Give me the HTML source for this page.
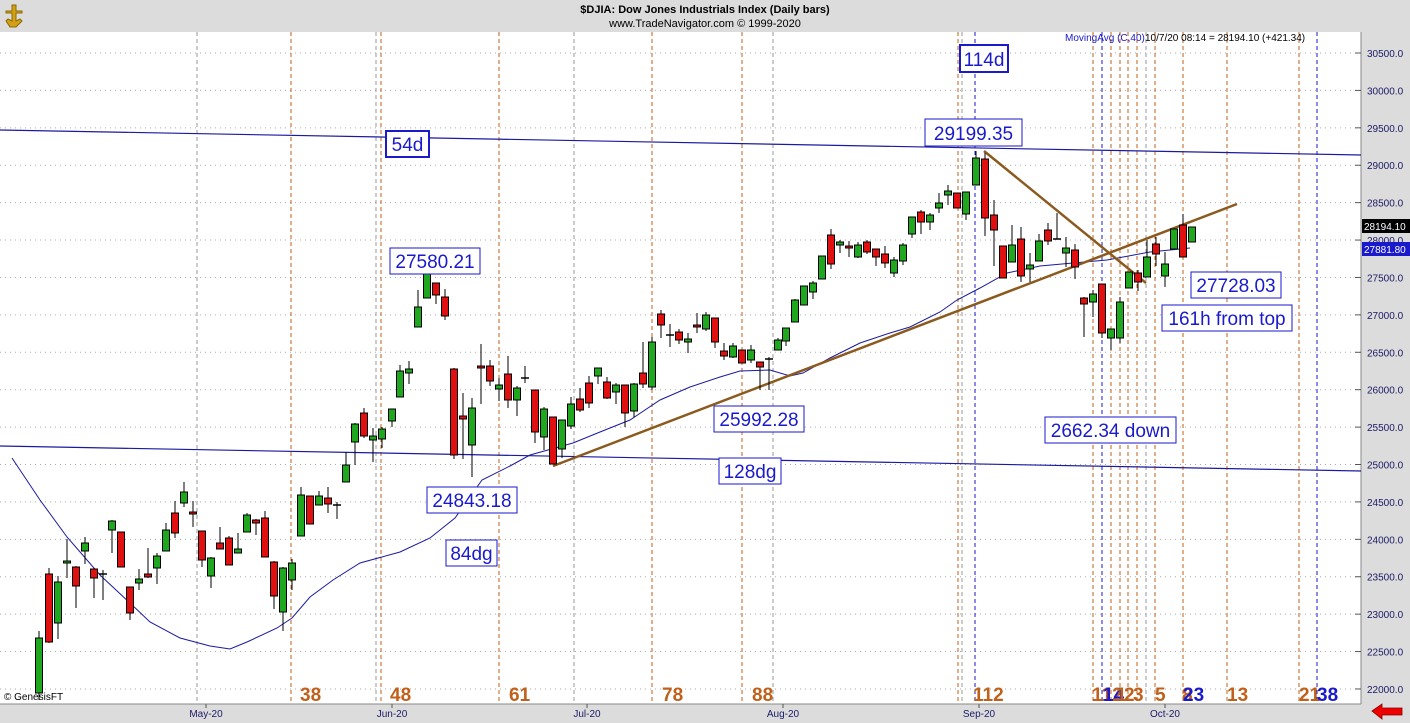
<!DOCTYPE html>
<html><head><meta charset="utf-8"><style>
html,body{margin:0;padding:0;width:1410px;height:723px;overflow:hidden;background:#dcdcdc;font-family:"Liberation Sans",sans-serif}
svg{display:block}
</style></head><body>
<svg id="s" width="1410" height="723" xmlns="http://www.w3.org/2000/svg" font-family="Liberation Sans, sans-serif">
<rect x="0" y="0" width="1410" height="723" fill="#dcdcdc"/>
<rect x="0" y="32" width="1361" height="672" fill="#fff"/>
<line x1="1361" y1="32" x2="1361" y2="704" stroke="#888" stroke-width="1"/>
<line x1="0" y1="704" x2="1361" y2="704" stroke="#888" stroke-width="1"/>
<text x="705" y="13" font-size="11" font-weight="bold" text-anchor="middle" fill="#000">$DJIA:  Dow Jones Industrials Index  (Daily bars)</text>
<text x="705" y="27" font-size="11" text-anchor="middle" fill="#000">www.TradeNavigator.com © 1999-2020</text>
<g transform="translate(4,3)"><path d="M10 2 L12 2 L12 8 L18 8 L18 10 L12 10 L12 18 L16 16 L18 18 L12 24 L6 24 L2 18 L4 16 L8 18 L8 10 L2 10 L2 8 L8 8 L8 2Z" fill="#d4a017" stroke="#8a6a00" stroke-width="1"/></g>
<g id="grid"></g>
<g id="vl"></g>
<g id="lines"></g>
<g id="c"></g>
<g id="lab"></g>
<text x="1065" y="41" font-size="10" fill="#1a1acc">MovingAvg (C,40)</text>
<text x="1145" y="41" font-size="10" fill="#000">10/7/20 08:14 = 28194.10 (+421.34)</text>
<text x="4" y="700" font-size="10" fill="#000">© GenesisFT</text>
<path d="M1372 711 L1382 704 L1382 708 L1402 708 L1402 715 L1382 715 L1382 719Z" fill="#e00" stroke="#800" stroke-width="0.8"/>
</svg>
<script>
var NS="http://www.w3.org/2000/svg";
function el(p,t,a,txt){var e=document.createElementNS(NS,t);for(var k in a)e.setAttribute(k,a[k]);if(txt!=null)e.textContent=txt;document.getElementById(p).appendChild(e);return e;}
// grid + right axis
for(var k=0;k<=17;k++){var y=53+k*37.41;var v=30500-k*500;
el("grid","line",{x1:0,y1:y,x2:1361,y2:y,stroke:"#aaa","stroke-dasharray":"1,4","stroke-width":1});
el("grid","line",{x1:1355,y1:y,x2:1361,y2:y,stroke:"#555"});
el("grid","text",{x:1367,y:y+4,"font-size":10,fill:"#1a1a66"},v.toFixed(1));}
// month labels
[["May-20",206],["Jun-20",392],["Jul-20",587],["Aug-20",783],["Sep-20",979],["Oct-20",1165]].forEach(function(m){
el("grid","text",{x:m[1],y:717,"font-size":10,fill:"#1a1a66","text-anchor":"middle"},m[0]);
el("grid","line",{x1:m[1],y1:704,x2:m[1],y2:708,stroke:"#555"});});
// vertical lines
[197,376,574,773,962,1146].forEach(function(x){el("vl","line",{x1:x,y1:32,x2:x,y2:704,stroke:"#999","stroke-dasharray":"4,3"});});
[291,381,499,652,742,958,1093,1111,1120,1128,1137,1155,1183,1227,1299].forEach(function(x){el("vl","line",{x1:x,y1:32,x2:x,y2:704,stroke:"#c0601a","stroke-dasharray":"4,3"});});
[975,1102,1317].forEach(function(x){el("vl","line",{x1:x,y1:32,x2:x,y2:704,stroke:"#1a1acc","stroke-dasharray":"4,3"});});
// lines
el("lines","line",{x1:0,y1:130,x2:1361,y2:155,stroke:"#1a1aa0","stroke-width":1.2});
el("lines","line",{x1:0,y1:446,x2:1361,y2:471,stroke:"#1a1aa0","stroke-width":1.2});
var ma=[[12,458],[40,500],[67,537],[100,575],[130,603],[150,622],[180,638],[210,646],[230,649],[247,642],[277,628],[292,618],[310,597],[333,580],[360,563],[400,552],[430,538],[455,518],[482,480],[510,466],[530,455],[573,443],[600,432],[630,420],[660,400],[690,387],[720,377],[740,371],[770,370],[790,376],[803,373],[830,358],[860,343],[890,333],[910,327],[940,312],[957,300],[980,288],[1007,273],[1040,266],[1073,263],[1107,260],[1150,252],[1190,248]];
el("lines","polyline",{points:ma.map(function(p){return p.join(",")}).join(" "),fill:"none",stroke:"#1a1aa0","stroke-width":1});
el("lines","line",{x1:553,y1:466,x2:1237,y2:204,stroke:"#8b5a1e","stroke-width":2.5});
el("lines","line",{x1:984,y1:151,x2:1146,y2:283,stroke:"#8b5a1e","stroke-width":2.5});
// candles [x, top, bottom, high, low, green]
var C=[[39,638,693,631,700,1],[49,574,642,568,643,0],[58,582,623,576,639,1],[67,561,563,539,578,1],[76,567,586,566,608,0],[85,543,551,537,564,1],[94,569,578,568,598,0],[103,574,574,570,600,2],[112,521,530,520,553,1],[121,532,567,532,567,0],[130,587,613,587,620,0],[139,579,583,569,590,1],[148,574,577,548,578,0],[157,556,568,553,584,1],[166,530,551,523,551,1],[175,513,533,501,538,0],[184,492,503,482,507,1],[193,512,514,501,527,0],[202,531,560,531,567,0],[211,558,576,557,588,1],[220,543,549,527,549,0],[229,538,565,536,565,0],[238,549,553,533,553,1],[247,515,532,513,532,1],[256,520,523,519,535,0],[265,518,557,511,557,0],[274,562,596,561,609,0],[283,568,612,567,631,1],[292,563,580,559,590,1],[301,495,536,487,536,1],[310,496,524,496,524,0],[319,496,505,491,505,1],[328,498,504,487,513,0],[337,505,505,502,519,2],[346,465,482,452,482,1],[355,424,442,423,465,1],[364,413,436,408,438,0],[373,436,440,428,462,1],[382,429,439,427,448,1],[392,409,421,409,427,1],[400,371,397,365,397,1],[409,369,373,361,384,1],[418,307,327,290,327,1],[427,273,298,273,298,1],[436,283,295,283,304,0],[445,297,316,289,320,0],[454,369,455,368,459,0],[463,416,419,393,459,0],[472,408,445,398,477,1],[481,366,368,344,404,0],[490,366,381,360,386,0],[499,385,389,378,401,1],[508,374,400,356,408,0],[517,388,400,386,416,1],[525,378,378,366,383,2],[535,390,432,390,443,0],[544,409,437,407,450,1],[553,417,464,417,464,0],[562,420,449,420,458,1],[571,404,426,397,429,1],[580,399,410,388,412,0],[589,383,403,376,408,0],[598,368,376,368,384,1],[607,382,398,377,399,0],[616,385,392,383,404,1],[625,385,413,385,427,0],[634,384,411,383,417,1],[643,373,384,342,388,0],[652,342,387,337,390,1],[661,314,325,310,338,0],[670,335,335,324,347,2],[679,332,340,329,344,0],[688,339,342,333,353,1],[697,325,327,313,333,0],[706,315,329,312,331,1],[715,318,342,318,348,0],[724,351,356,343,360,0],[733,346,357,343,358,1],[742,350,363,350,363,0],[751,350,360,345,363,1],[760,362,367,362,390,0],[769,359,359,357,390,2],[778,340,350,338,350,1],[786,328,341,328,346,1],[795,300,322,299,322,1],[804,286,305,286,305,1],[813,283,292,281,299,1],[822,256,279,256,279,1],[831,235,264,229,269,0],[840,242,245,240,253,1],[849,246,248,241,257,0],[858,245,257,242,258,1],[867,242,252,240,254,0],[876,249,257,249,266,0],[885,254,263,246,268,0],[894,260,273,257,277,1],[903,245,261,243,265,1],[912,217,234,217,238,1],[921,212,222,210,234,0],[930,215,222,213,230,1],[939,203,208,193,213,1],[948,191,195,185,205,1],[957,193,208,193,208,0],[966,192,214,192,220,1],[976,158,185,151,185,1],[985,159,218,153,236,0],[994,215,230,200,266,0],[1003,246,278,246,278,0],[1012,245,262,225,262,1],[1021,239,276,227,282,0],[1030,265,269,253,282,1],[1039,241,261,234,261,1],[1048,230,241,223,245,0],[1057,239,239,213,239,2],[1066,248,253,237,267,1],[1075,250,267,244,279,0],[1084,298,304,297,337,0],[1093,294,302,290,317,1],[1102,284,333,284,338,0],[1111,329,338,329,350,1],[1120,302,338,297,343,1],[1129,272,288,272,288,1],[1138,273,282,270,291,0],[1147,257,277,240,277,1],[1156,244,254,237,266,0],[1165,264,276,252,287,1],[1174,229,249,229,249,1],[1183,225,257,214,257,0],[1192,227,242,227,242,1]];
C.forEach(function(c){
el("c","line",{x1:c[0],y1:c[3],x2:c[0],y2:c[4],stroke:"#000","stroke-width":1});
if(c[5]==2){el("c","line",{x1:c[0]-4,y1:c[1],x2:c[0]+4,y2:c[1],stroke:"#000","stroke-width":1.5});}
else{var h=Math.max(c[2]-c[1],2);el("c","rect",{x:c[0]-3.5,y:c[1],width:7,height:h,fill:c[5]?"#1fa81f":"#e01010",stroke:"#000","stroke-width":1});}
});
// labels
function box(x,y,w,h,t,bw){el("lab","rect",{x:x,y:y,width:w,height:h,fill:"#fff",stroke:"#1a1acc","stroke-width":bw||1});
el("lab","text",{x:x+w/2,y:y+h-6,"font-size":19,fill:"#1a1acc","text-anchor":"middle"},t);}
box(960,45,48,27,"114d",2);box(386,131,43,26,"54d",2);
box(925,119,97,27,"29199.35");box(390,248,90,26,"27580.21");
box(714,406,90,26,"25992.28");box(719,458,62,26,"128dg");
box(427,487,90,26,"24843.18");box(446,540,51,26,"84dg");
box(1045,417,131,26,"2662.34 down");box(1191,272,90,26,"27728.03");
box(1162,305,130,26,"161h from top");
// right axis price boxes
el("lab","rect",{x:1362,y:219,width:48,height:14,fill:"#000"});
el("lab","text",{x:1364,y:230,"font-size":10,fill:"#fff"},"28194.10");
el("lab","rect",{x:1362,y:242,width:48,height:14,fill:"#1a1acc"});
el("lab","text",{x:1364,y:253,"font-size":10,fill:"#fff"},"27881.80");
// bottom numbers
var O="#c0601a",B="#1a1acc";
[["38",300,O],["48",390,O],["61",509,O],["78",662,O],["88",752,O],["112",973,O],
["112",1092,O],["14",1103,B],["1",1116,O],["2",1124,O],["3",1133,O],["5",1155,O],["8",1182,O],["23",1183,B],["13",1227,O],["21",1299,O],["38",1317,B]].forEach(function(n){
el("lab","text",{x:n[1],y:701,"font-size":19,"font-weight":"bold",fill:n[2]},n[0]);});
</script>
</body></html>
